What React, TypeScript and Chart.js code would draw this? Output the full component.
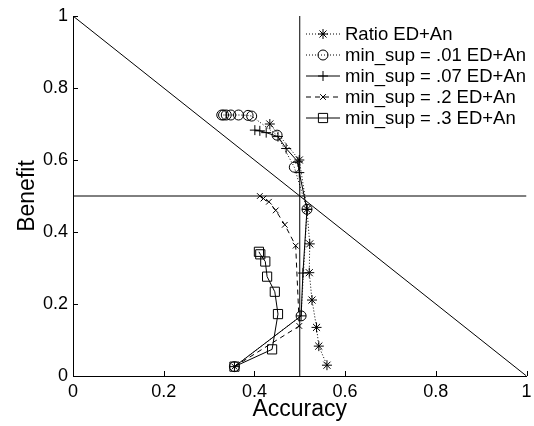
import React, { useEffect, useRef } from 'react';
import { Chart, registerables } from 'chart.js';

Chart.register(...registerables);

const FONT = '"Liberation Sans", Arial, Helvetica, sans-serif';

// ---- data ----
const xTickVals = [0, 0.2, 0.4, 0.6, 0.8, 1];
const xTickLabels = ['0', '0.2', '0.4', '0.6', '0.8', '1'];
const yTickVals = [0, 0.2, 0.4, 0.6, 0.8, 1];
const yTickLabels = ['0', '0.2', '0.4', '0.6', '0.8', '1'];

const seriesLabels = [
  'Ratio ED+An',
  'min_sup = .01 ED+An',
  'min_sup = .07 ED+An',
  'min_sup = .2 ED+An',
  'min_sup = .3 ED+An',
];

const ratioX = [0.434, 0.499, 0.516, 0.522, 0.521, 0.527, 0.537, 0.542, 0.56];
const ratioY = [0.7, 0.6, 0.463, 0.367, 0.287, 0.211, 0.135, 0.083, 0.03];

const sup01X = [0.356, 0.503, 0.516, 0.488, 0.45, 0.394, 0.386, 0.365, 0.348, 0.338, 0.332, 0.328];
const sup01Y = [0.026, 0.167, 0.463, 0.58, 0.669, 0.722, 0.724, 0.725, 0.725, 0.725, 0.725, 0.725];

const sup07X = [0.356, 0.503, 0.507, 0.516, 0.499, 0.496, 0.47, 0.452, 0.426, 0.412, 0.401];
const sup07Y = [0.026, 0.167, 0.286, 0.463, 0.565, 0.595, 0.632, 0.665, 0.676, 0.681, 0.683];

const sup2X = [0.356, 0.499, 0.491, 0.467, 0.447, 0.432, 0.42, 0.412];
const sup2Y = [0.026, 0.139, 0.362, 0.42, 0.46, 0.484, 0.493, 0.5];

const sup3X = [0.356, 0.439, 0.452, 0.445, 0.428, 0.424, 0.413, 0.41];
const sup3Y = [0.026, 0.074, 0.172, 0.234, 0.276, 0.318, 0.338, 0.345];

// reference lines
const diagX = [0, 1];
const diagY = [1, 0];
const horizX = [0, 1];
const horizY = [0.5, 0.5];
const vertX = [0.5, 0.5];
const vertY = [0, 1];

const styles = [
  { pointStyle: 'star', radius: 5, dash: [1, 2] },
  { pointStyle: 'circle', radius: 5, dash: [1, 2] },
  { pointStyle: 'cross', radius: 5, dash: [] as number[] },
  { pointStyle: 'crossRot', radius: 4, dash: [5, 4] },
  { pointStyle: 'rect', radius: 6.5, dash: [] as number[] },
];

function pts(xs: number[], ys: number[]) {
  return xs.map((x, i) => ({ x, y: ys[i] }));
}

function drawMarker(ctx: CanvasRenderingContext2D, style: string, x: number, y: number, r: number) {
  ctx.beginPath();
  if (style === 'circle') {
    ctx.arc(x, y, r, 0, Math.PI * 2);
  } else if (style === 'rect') {
    const s = Math.SQRT1_2 * r;
    ctx.rect(x - s, y - s, 2 * s, 2 * s);
  } else {
    const doCross = style === 'cross' || style === 'star';
    const doRot = style === 'crossRot' || style === 'star';
    if (doCross) {
      ctx.moveTo(x - r, y);
      ctx.lineTo(x + r, y);
      ctx.moveTo(x, y - r);
      ctx.lineTo(x, y + r);
    }
    if (doRot) {
      const d = Math.SQRT1_2 * r;
      ctx.moveTo(x - d, y - d);
      ctx.lineTo(x + d, y + d);
      ctx.moveTo(x - d, y + d);
      ctx.lineTo(x + d, y - d);
    }
  }
  ctx.stroke();
}

const tickPlugin = {
  id: 'inwardTicks',
  afterDraw(chart: any) {
    const { ctx, chartArea, scales } = chart;
    ctx.save();
    ctx.strokeStyle = '#000';
    ctx.lineWidth = 1;
    ctx.beginPath();
    xTickVals.forEach((v) => {
      const px = Math.round(scales.x.getPixelForValue(v)) + 0.5;
      ctx.moveTo(px, chartArea.bottom);
      ctx.lineTo(px, chartArea.bottom - 5);
    });
    yTickVals.forEach((v) => {
      const py = Math.round(scales.y.getPixelForValue(v)) + 0.5;
      ctx.moveTo(chartArea.left, py);
      ctx.lineTo(chartArea.left + 5, py);
    });
    ctx.stroke();
    ctx.restore();
  },
};

const legendPlugin = {
  id: 'matlabLegend',
  afterDraw(chart: any) {
    const { ctx } = chart;
    ctx.save();
    ctx.font = `18.5px ${FONT}`;
    ctx.fillStyle = '#000';
    ctx.strokeStyle = '#000';
    ctx.lineWidth = 1;
    ctx.textBaseline = 'middle';
    ctx.textAlign = 'left';
    seriesLabels.forEach((label, i) => {
      const y = 34 + i * 21;
      const st = styles[i];
      ctx.setLineDash(st.dash);
      ctx.beginPath();
      ctx.moveTo(306, y);
      ctx.lineTo(340, y);
      ctx.stroke();
      ctx.setLineDash([]);
      drawMarker(ctx, st.pointStyle, 323, y, st.radius);
      ctx.fillText(label, 345, y + 1);
    });
    ctx.restore();
  },
};

export default function App() {
  const ref = useRef<HTMLCanvasElement>(null);

  useEffect(() => {
    document.body.style.margin = '0';
    const canvas = ref.current;
    if (!canvas) return;

    const refLine = (xs: number[], ys: number[]) => ({
      data: pts(xs, ys),
      showLine: true,
      borderColor: '#000',
      borderWidth: 1,
      pointRadius: 0,
      fill: false,
    });

    const seriesData = [
      pts(ratioX, ratioY),
      pts(sup01X, sup01Y),
      pts(sup07X, sup07Y),
      pts(sup2X, sup2Y),
      pts(sup3X, sup3Y),
    ];

    const datasets: any[] = [
      refLine(diagX, diagY),
      refLine(horizX, horizY),
      refLine(vertX, vertY),
      ...seriesData.map((d, i) => ({
        label: seriesLabels[i],
        data: d,
        showLine: true,
        borderColor: '#000',
        borderWidth: 1,
        borderDash: styles[i].dash,
        pointStyle: styles[i].pointStyle,
        pointRadius: styles[i].radius,
        pointBorderColor: '#000',
        pointBackgroundColor: 'rgba(0,0,0,0)',
        pointBorderWidth: 1,
        fill: false,
        tension: 0,
      })),
    ];

    const chart = new Chart(canvas, {
      type: 'scatter',
      data: { datasets },
      options: {
        responsive: false,
        animation: false,
        events: [],
        layout: { padding: { top: 16, right: 4, left: 0, bottom: 0 } },
        plugins: {
          legend: { display: false },
          tooltip: { enabled: false },
        },
        scales: {
          x: {
            type: 'linear',
            min: 0,
            max: 1,
            afterBuildTicks: (s: any) => {
              s.ticks = xTickVals.map((v) => ({ value: v }));
            },
            afterFit: (s: any) => {
              s.height = 50;
              s.paddingLeft = 0;
              s.paddingRight = 0;
            },
            ticks: {
              callback: (_v: any, i: number) => xTickLabels[i],
              font: { family: FONT, size: 18 },
              color: '#000',
              padding: 5,
              maxRotation: 0,
              autoSkip: false,
            },
            grid: { display: false, drawTicks: false },
            border: { display: true, color: '#000', width: 1 },
            title: {
              display: true,
              text: 'Accuracy',
              color: '#000',
              font: { family: FONT, size: 23 },
              padding: { top: 0, bottom: 3 },
            },
          },
          y: {
            type: 'linear',
            min: 0,
            max: 1,
            afterBuildTicks: (s: any) => {
              s.ticks = yTickVals.map((v) => ({ value: v }));
            },
            afterFit: (s: any) => {
              s.width = 73;
              s.paddingTop = 0;
              s.paddingBottom = 0;
            },
            ticks: {
              callback: (_v: any, i: number) => yTickLabels[i],
              font: { family: FONT, size: 18 },
              color: '#000',
              padding: 5,
              autoSkip: false,
            },
            grid: { display: false, drawTicks: false },
            border: { display: true, color: '#000', width: 1 },
            title: {
              display: true,
              text: 'Benefit',
              color: '#000',
              font: { family: FONT, size: 23 },
              padding: { top: 14, bottom: 0 },
            },
          },
        },
      } as any,
      plugins: [tickPlugin, legendPlugin],
    });

    return () => chart.destroy();
  }, []);

  return <canvas ref={ref} width={534} height={426} style={{ display: 'block' }} />;
}
